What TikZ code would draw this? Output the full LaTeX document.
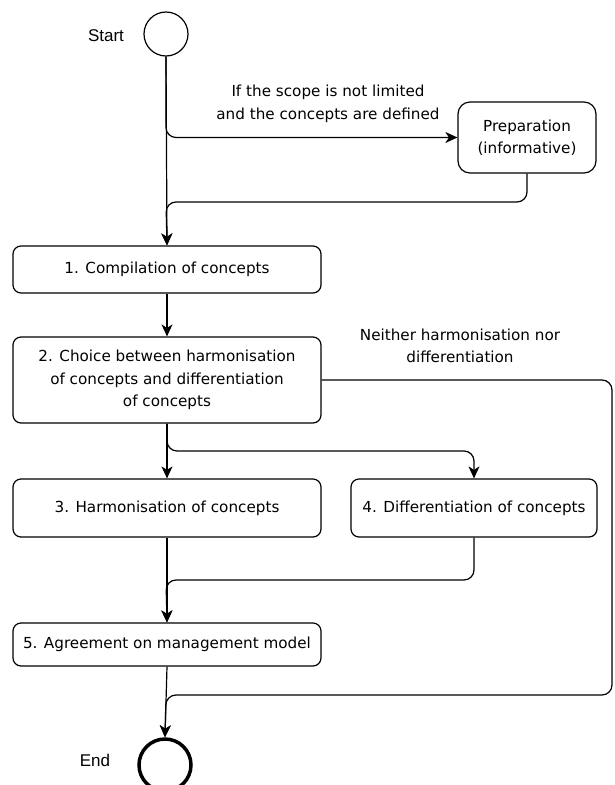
\documentclass[tikz,border=0pt]{standalone}
\usepackage{fontspec}
\setmainfont{DejaVu Sans}
\newfontfamily\arialfont{Liberation Sans}
\usetikzlibrary{arrows.meta}
\tikzset{>={Stealth[length=12pt,width=11pt,inset=3.5pt]},every node/.style={font=\fontsize{15.2}{22.5}\selectfont},
stage/.style={draw,line width=1.2pt,rounded corners=8pt,minimum width=308pt,align=center},
flow/.style={line width=1.2pt,->,rounded corners=10pt},edge/.style={line width=1.2pt,rounded corners=10pt}}
\begin{document}
\begin{tikzpicture}[x=1pt,y=-1pt]
\useasboundingbox (0,0) rectangle (615,785);
\node[draw,circle,line width=1.2pt,minimum size=44pt] (start) at (166,34) {};\node[font=\arialfont\fontsize{17}{19}\selectfont] (startlbl) at (106,36) {Start};
\node[stage,minimum width=138pt,minimum height=71pt,rounded corners=12pt] (prep) at (527,137.5) {Preparation\\(informative)};
\node[stage,minimum height=47pt] (c1) at (167,269.5) {1. Compilation of concepts};
\node[stage,minimum height=86pt] (c2) at (167,380) {2. Choice between harmonisation\\of concepts and differentiation\\of concepts};
\node[stage,minimum height=58pt] (c3) at (167,508) {3. Harmonisation of concepts};
\node[stage,minimum width=246pt,minimum height=58pt] (c4) at (474,508) {4. Differentiation of concepts};
\node[stage,minimum height=43pt] (c5) at (167,644.5) {5. Agreement on management model};
\node[draw,circle,line width=3.5pt,minimum size=52pt] (end) at (165,765) {};\node[font=\arialfont\fontsize{17}{19}\selectfont] (endlbl) at (95,760) {End};
\node[align=center] (scopelbl) at (328,104) {If the scope is not limited\\and the concepts are defined};
\node[align=center] (neitherlbl) at (460,346) {Neither harmonisation nor\\differentiation};
\coordinate (j1) at (166,202);\coordinate (j2) at (474,451);\coordinate (j3) at (166,580);\coordinate (rr) at (612,695);\coordinate (j4) at (166,695);
% Start and preparation
\draw[flow] (start.south)--(c1.north);\draw[flow] (start.south) |- (prep.west);\draw[flow] (prep.south) |- (j1)--(c1.north);
\draw[flow] (c1)--(c2);\draw[flow] (c2)--(c3);\draw[flow] (c2.south) |- (j2)--(c4.north);
% back to the main line
\draw[flow] (c4.south) |- (j3)--(c5.north);\draw[flow] (c3)--(c5);\draw[flow] (c5.south)--(end.north);
\draw[flow] (c2.east) -| (rr)--(j4)--(end.north);
\end{tikzpicture}
\end{document}
